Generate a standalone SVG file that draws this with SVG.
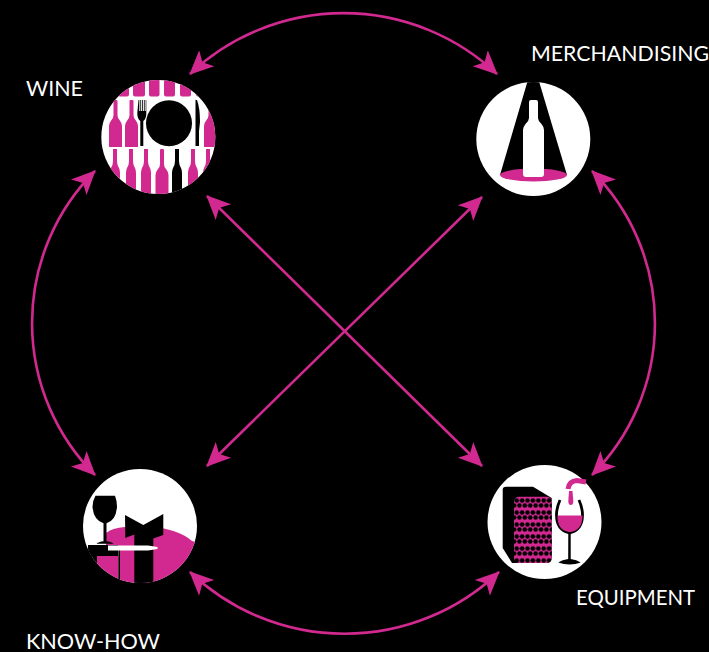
<svg xmlns="http://www.w3.org/2000/svg" width="709" height="652" viewBox="0 0 709 652">
<style>
.c{fill:none;stroke:#d1298f;stroke-width:2.6}
.p{fill:#d1298f}.k{fill:#000}.w{fill:#fff}
.t{font-family:"Lato","Liberation Sans",sans-serif;font-size:21px;fill:#fff}
</style>
<defs>
<marker id="a" markerUnits="userSpaceOnUse" markerWidth="30" markerHeight="30" refX="23" refY="12" orient="auto-start-reverse" viewBox="0 0 30 24"><path d="M0 1 L24 12 L0 23 L6 12Z" fill="#d1298f"/></marker>
<clipPath id="c1"><circle cx="158.300" cy="137" r="57"/></clipPath>
<clipPath id="c2"><circle cx="533.300" cy="139" r="57"/></clipPath>
<clipPath id="c3"><circle cx="140" cy="526" r="57"/></clipPath>
<path id="b" d="M-2 0h4q1 0 1 1v14q0 3 2 5q2.500 3 2.500 6v21h-13v-21q0-3 2.500-6q2-2 2-5v-14q0-1 1-1z"/>
<path id="bs" d="M-2 0h4v12q0 4 2 7q1 2 1 5v24h-10v-24q0-3 1-5q2-3 2-7z"/>
<pattern id="h" width="5.400" height="12" patternUnits="userSpaceOnUse" x="514" y="497"><rect width="5.400" height="12" fill="#d1298f"/><circle cx="2.700" cy="3.500" r="2.300" fill="#000"/><circle cx="0" cy="8.500" r="2.300" fill="#000"/><circle cx="5.400" cy="8.500" r="2.300" fill="#000"/></pattern>
</defs>
<rect width="709" height="652" fill="#000"/>
<g id="connectors">
<path class="c" marker-start="url(#a)" marker-end="url(#a)" d="M190 74A224 224 0 0 1 497 74"/>
<path class="c" marker-start="url(#a)" marker-end="url(#a)" d="M95 171A215 215 0 0 0 95 475"/>
<path class="c" marker-start="url(#a)" marker-end="url(#a)" d="M592 171A215 215 0 0 1 592 475"/>
<path class="c" marker-start="url(#a)" marker-end="url(#a)" d="M190 572A224 224 0 0 0 499 572"/>
<path class="c" marker-start="url(#a)" marker-end="url(#a)" d="M207 196L482 466"/>
<path class="c" marker-start="url(#a)" marker-end="url(#a)" d="M482 197L207 466"/>
</g>
<g id="wine">
<circle class="w" cx="158.300" cy="137" r="57"/>
<g clip-path="url(#c1)">
<g class="p">
<rect x="118" y="76" width="11" height="20.500" rx="2"/><rect x="133" y="76" width="12" height="20.500" rx="2"/><rect x="149" y="76" width="10.500" height="20.500" rx="2"/><rect x="164" y="76" width="11" height="20.500" rx="2"/><rect x="180" y="76" width="11" height="20.500" rx="2"/><rect x="196" y="76" width="12" height="20.500" rx="2"/>
<use href="#b" x="114.500" y="100"/><use href="#b" x="130.500" y="100"/><use href="#b" x="209.500" y="100"/>
<use href="#bs" x="115" y="149"/><use href="#bs" x="131" y="149"/><use href="#bs" x="146" y="149"/>
<use href="#b" x="161" y="149"/><use href="#bs" x="193" y="149"/><use href="#bs" x="208" y="149"/>
</g>
<use class="k" href="#bs" x="177" y="149"/>
</g>
<circle class="k" cx="169" cy="123.300" r="23"/>
<path class="k" d="M138.500 100h.8v11h1v-11h.8v11h1v-11h.8v11h1v-11h.8v11h1v-11h.6v13q0 6-3 8v25h-3v-25q-3-2-3-8z"/>
<path class="k" d="M197 100q3 8 3 22l-1 9v15h-3.500v-46z"/>
</g>
<g id="merchandising">
<circle class="w" cx="533.300" cy="139" r="57"/>
<g clip-path="url(#c2)">
<path class="k" d="M528.500 78h9.500l29 97h-67z"/>
<ellipse class="p" cx="533.500" cy="175" rx="33.500" ry="6.500"/>
</g>
<path class="w" d="M531 100h5q2 0 2 2v16q0 3 3.500 6q2.500 3 2.500 6v44q0 3-3 3h-15q-3 0-3-3v-44q0-3 2.500-6q3.500-3 3.500-6v-16q0-2 2-2z"/>
</g>
<g id="know-how">
<circle class="w" cx="140" cy="526" r="57"/>
<g clip-path="url(#c3)">
<path class="p" d="M106 533q6-5 19-6l25-1q30 4 42 15l13 4v45h-85v-41h-14z"/>
<rect class="k" x="78" y="550" width="19" height="40"/>
<rect class="k" x="88" y="545" width="30" height="11"/>
<rect class="p" x="97" y="556" width="21.300" height="34"/>
<rect class="k" x="118.300" y="549" width="1.700" height="45"/>
<path class="k" d="M125 515l18.300 10l20-11v21l-10 3.500v50h-19v-54l-9 3.500z"/>
<path class="w" d="M108 545.500h40l9.500 1.500v2l-9.500 1.500h-40z"/>
</g>
<path class="k" d="M95 495.700h20q2 5 2 11q-1 14-10.500 16.500v18q5 .5 7 2.500h-17q2-2 7-2.500v-18q-10-3-11-16.500q0-6 3-11z"/>
</g>
<g id="equipment">
<circle class="w" cx="544.500" cy="522" r="57"/>
<path class="k" d="M506 486.700h27l18.700 11.300v60q0 5-5 5h-34.700l-9.300-15v-58q0-3.300 3.300-3.300z"/>
<rect x="514" y="496.700" width="37.700" height="66.300" rx="5" fill="url(#h)"/>
<path fill="none" stroke="#d1298f" stroke-width="5" d="M568 489q1-8 9-8.500l9 1.500"/>
<path class="p" d="M569 491h3.500l.8 10q0 4-2.500 4q-2.500 0-2.500-4z"/>
<path fill="none" stroke="#000" stroke-width="2.800" d="M560 500q-3.500 8-3.500 15q0 15 13 18q13-3 13-18q0-7-3.500-15"/>
<path class="p" d="M557.500 515.500h25q0 15-12.500 16.500q-13-1-12.500-16.500z"/>
<path class="k" d="M568.300 532h2.400v27q6 .5 10 3.500q-5 2-11 2t-11.500-2q4-3 10-3.500z"/>
</g>
<g id="labels">
<text class="t" x="26" y="96" textLength="57" lengthAdjust="spacingAndGlyphs">WINE</text>
<text class="t" x="531" y="61" textLength="178" lengthAdjust="spacingAndGlyphs">MERCHANDISING</text>
<text class="t" x="576" y="605" textLength="119" lengthAdjust="spacingAndGlyphs">EQUIPMENT</text>
<text class="t" x="26" y="649" textLength="134" lengthAdjust="spacingAndGlyphs">KNOW-HOW</text>
</g>
</svg>
